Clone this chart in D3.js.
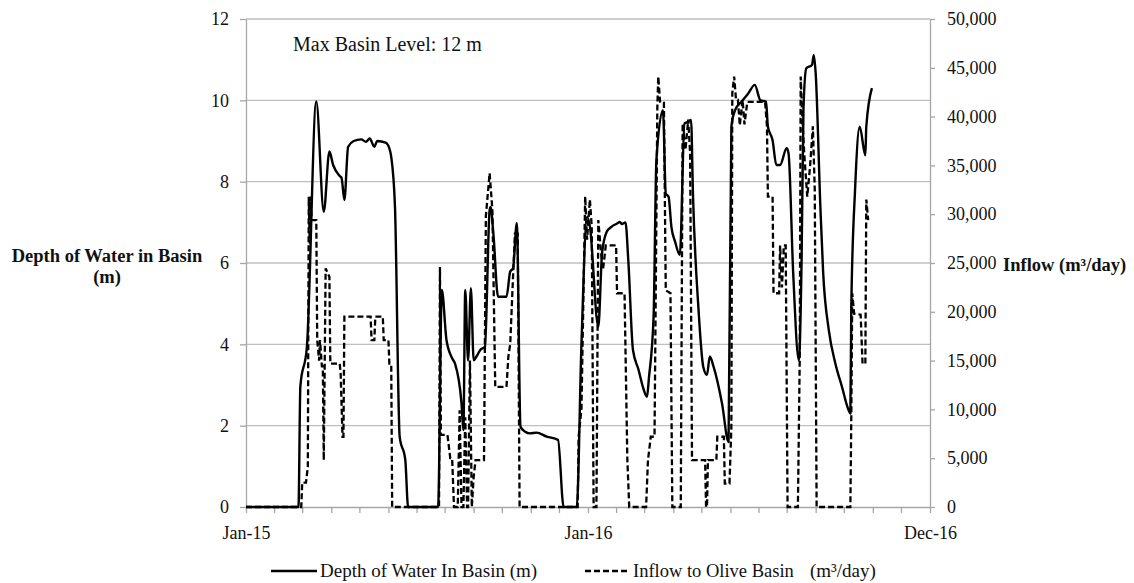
<!DOCTYPE html>
<html>
<head>
<meta charset="utf-8">
<script src="https://cdn.jsdelivr.net/npm/d3@7/dist/d3.min.js"></script>
<style>
  body { margin: 0; background: #fff; }
  svg text { font-family: "Book Antiqua", "Palatino Linotype", Palatino, "Liberation Serif", serif; fill: #111; }
</style>
</head>
<body>
<div id="chart"></div>
<script>
/* global d3 */

// Data: days counted from the start date
const startDate = '2015-01-01'

const depthDays = [0, 56, 58, 65, 75, 83, 89, 93, 100, 102, 105, 109, 115, 123, 128, 132, 137, 140, 149, 153, 155, 159, 164, 170, 173,
  205, 209, 214, 220, 223, 230, 232, 234, 237, 240, 243, 246, 250, 255, 260, 261, 264, 269, 278, 282, 285, 289, 293, 298, 303, 310, 321, 333, 339,
  353, 358, 364, 367, 376, 380, 385, 390, 396, 399, 401, 405, 408, 413, 419, 424, 428, 430, 435, 438, 445, 448, 451, 454, 458, 463,
  468, 472, 475, 477, 483, 488, 492, 495, 499, 508, 515, 518, 522, 529, 536, 543, 549, 555, 557, 562, 566, 570, 577, 579, 584, 590,
  593, 595, 598, 604, 606, 608, 613, 616, 622, 629, 636, 643, 645, 646, 650, 655, 661, 662, 668]
const depthValues = [0, 0, 2.96, 3.94, 9.97, 7.26, 8.74, 8.41, 8.14, 8.09, 7.55, 8.86, 9.0, 9.04, 8.98, 9.06, 8.86, 9.0, 8.96, 8.82, 8.61, 7.38, 1.73, 1.16, 0,
  0, 5.34, 4.1, 3.66, 3.53, 2.55, 1.89, 5.34, 3.6, 5.38, 3.61, 3.7, 3.86, 3.94, 7.3, 7.38, 6.73, 5.17, 5.17, 5.79, 5.87, 6.98, 1.97, 1.85, 1.81, 1.83, 1.73, 1.65, 0,
  0, 4.0, 7.14, 6.9, 4.43, 6.24, 6.77, 6.89, 6.97, 7.01, 6.96, 7.0, 6.07, 3.86, 3.37, 2.92, 2.71, 3.17, 4.68, 8.53, 9.76, 7.71, 7.63, 6.89, 6.52, 6.2,
  9.43, 9.47, 9.52, 7.71, 4.84, 3.45, 3.25, 3.7, 3.45, 2.55, 1.6, 9.35, 9.76, 9.97, 10.17, 10.38, 10.0, 9.97, 9.35, 9.02, 8.41, 8.41, 8.82, 8.7, 5.75, 3.61,
  6.15, 9.84, 10.79, 10.87, 11.11, 10.66, 7.38, 5.75, 4.35, 3.53, 2.96, 2.39, 2.3, 4.92, 7.79, 9.35, 8.65, 9.35, 10.3]

const inflowDays = [0, 59, 60, 64, 66, 67, 68, 69, 70, 75, 76, 78, 79, 81, 82, 83, 85, 87, 89, 90, 100, 101, 103, 104, 105, 133, 134, 137, 138, 146, 147, 152, 153, 155, 156,
  206, 207, 208, 215, 218, 220, 222, 226, 228, 230, 232, 234, 236, 237, 239, 241, 243, 245, 254, 256, 260, 263, 266, 278, 280, 282, 285, 287, 290, 292,
  354, 355, 358, 362, 364, 367, 369, 371, 374, 376, 379, 381, 384, 395, 396, 404, 407, 409, 427, 429, 432, 436, 439, 440, 442, 446, 448, 453, 455,
  464, 466, 469, 472, 474, 476, 484, 490, 491, 492, 493, 502, 503, 510, 511, 516, 518, 519, 521, 523, 525, 527, 530, 532, 535, 554, 556, 557, 562, 563, 569,
  570, 572, 574, 576, 578, 589, 591, 592, 594, 596, 599, 602, 605, 607, 609, 645, 646, 647, 649, 656, 658, 661, 662, 664]
const inflowValues = [0, 0, 2500, 2500, 4100, 31800, 27000, 31800, 29400, 29400, 17100, 15000, 17100, 14400, 14400, 4800, 24450, 24000, 23600, 14700, 14700, 13700, 7200, 7200, 19500, 19500, 17100, 17100, 19500, 19500, 17100, 17100, 14700, 14700, 0,
  0, 24600, 7400, 7400, 5000, 5000, 0, 0, 9900, 0, 0, 9200, 0, 0, 15000, 0, 3100, 4800, 4800, 29800, 34200, 30400, 12300, 12300, 15400, 16700, 23600, 28000, 28000, 0,
  0, 7200, 10000, 31800, 27400, 31500, 28700, 0, 0, 29400, 26000, 24300, 26800, 26800, 21900, 21900, 4800, 0, 0, 4800, 7200, 7200, 41000, 44100, 41400, 41400, 22200, 21900, 0,
  0, 39300, 36600, 39700, 36200, 4800, 4800, 4800, 0, 0, 4800, 4800, 7200, 7200, 2400, 2400, 8200, 42400, 44100, 41700, 41700, 39100, 41700, 39200, 41500, 41500, 39000, 31800, 31800, 21900, 21900,
  26800, 22500, 26800, 26800, 0, 0, 15400, 44100, 39300, 35900, 31800, 34900, 39000, 32500, 0, 0, 9200, 21900, 19800, 19700, 14700, 14700, 31500, 29400]

const depthTicks = [0, 2, 4, 6, 8, 10, 12]
const inflowTicks = [0, 5000, 10000, 15000, 20000, 25000, 30000, 35000, 40000, 45000, 50000]
const dateLabels = ['Jan-15', 'Jan-16', 'Dec-16']
const dateLabelDays = [0, 365, 730]

// Our canvas
const width = 1134,
  height = 583,
  plotLeft = 246,
  plotRight = 930,
  plotTop = 19,
  plotBottom = 507

const svg = d3.select('#chart')
  .append('svg')
  .attr('width', width)
  .attr('height', height)

const start = d3.timeParse('%Y-%m-%d')(startDate)
const toDate = d => d3.timeDay.offset(start, d)

const x = d3.scaleTime()
  .domain([start, toDate(730)])
  .range([plotLeft, plotRight])

const yDepth = d3.scaleLinear()
  .domain([0, 12])
  .range([plotBottom, plotTop])

const yInflow = d3.scaleLinear()
  .domain([0, 50000])
  .range([plotBottom, plotTop])

// grid lines
svg.append('g')
  .selectAll('line')
  .data(depthTicks.filter(d => d > 0))
  .enter()
  .append('line')
  .attr('x1', plotLeft)
  .attr('x2', plotRight)
  .attr('y1', d => yDepth(d))
  .attr('y2', d => yDepth(d))
  .attr('stroke', '#bfbfbf')
  .attr('stroke-width', 1.3)

const styleAxis = g => {
  g.attr('font-family', null).attr('font-size', null)
  g.select('.domain').attr('stroke', '#a6a6a6').attr('stroke-width', 1.3)
  g.selectAll('.tick line').attr('stroke', '#a6a6a6').attr('stroke-width', 1.3)
  g.selectAll('text').attr('font-size', 18)
}

// left axis
svg.append('g')
  .attr('transform', `translate(${plotLeft},0)`)
  .call(d3.axisLeft(yDepth).tickValues(depthTicks).tickSize(6).tickPadding(11).tickSizeOuter(0))
  .call(styleAxis)

// right axis
svg.append('g')
  .attr('transform', `translate(${plotRight},0)`)
  .call(d3.axisRight(yInflow).tickValues(inflowTicks).tickFormat(d3.format(',')).tickSize(5).tickPadding(12).tickSizeOuter(0))
  .call(styleAxis)

// bottom axis, monthly ticks
const monthTicks = d3.range(0, 25).map(i => toDate(i * 365 / 12))
svg.append('g')
  .attr('transform', `translate(0,${plotBottom})`)
  .call(d3.axisBottom(x).tickValues(monthTicks).tickFormat('').tickSize(6).tickSizeOuter(0))
  .call(styleAxis)

svg.append('g')
  .attr('transform', `translate(0,${plotBottom})`)
  .call(d3.axisBottom(x).tickValues(dateLabelDays.map(toDate)).tickFormat((d, i) => dateLabels[i]).tickSize(0).tickPadding(19))
  .call(styleAxis)
  .call(g => g.select('.domain').remove())

// series
const depthData = depthDays.map((d, i) => ({ date: toDate(d), value: depthValues[i] }))
const inflowData = inflowDays.map((d, i) => ({ date: toDate(d), value: inflowValues[i] }))

svg.append('path')
  .datum(inflowData)
  .attr('fill', 'none')
  .attr('stroke', '#000')
  .attr('stroke-width', 2.3)
  .attr('stroke-dasharray', '6,3')
  .attr('d', d3.line().x(d => x(d.date)).y(d => yInflow(d.value)))

svg.append('path')
  .datum(depthData)
  .attr('fill', 'none')
  .attr('stroke', '#000')
  .attr('stroke-width', 2.4)
  .attr('stroke-linejoin', 'round')
  .attr('d', d3.line().curve(d3.curveMonotoneX).x(d => x(d.date)).y(d => yDepth(d.value)))

// axis titles
svg.append('text')
  .attr('x', 107)
  .attr('y', 262)
  .attr('text-anchor', 'middle')
  .attr('font-size', 18.5)
  .attr('font-weight', 'bold')
  .text('Depth of Water in Basin')

svg.append('text')
  .attr('x', 107)
  .attr('y', 283)
  .attr('text-anchor', 'middle')
  .attr('font-size', 18.5)
  .attr('font-weight', 'bold')
  .text('(m)')

svg.append('text')
  .attr('x', 1003)
  .attr('y', 271)
  .attr('font-size', 18.5)
  .attr('font-weight', 'bold')
  .text('Inflow (m³/day)')

svg.append('text')
  .attr('x', 293)
  .attr('y', 51)
  .attr('font-size', 20)
  .text('Max Basin Level: 12 m')

// legend
const legend = svg.append('g')
legend.append('line')
  .attr('x1', 271).attr('x2', 317)
  .attr('y1', 571).attr('y2', 571)
  .attr('stroke', '#000').attr('stroke-width', 2.4)
legend.append('text')
  .attr('x', 320).attr('y', 577)
  .attr('font-size', 19)
  .text('Depth of Water In Basin (m)')
legend.append('line')
  .attr('x1', 585).attr('x2', 630)
  .attr('y1', 571).attr('y2', 571)
  .attr('stroke', '#000').attr('stroke-width', 2.3)
  .attr('stroke-dasharray', '6,3')
legend.append('text')
  .attr('x', 633).attr('y', 577)
  .attr('font-size', 18.5)
  .text('Inflow to Olive Basin')
legend.append('text')
  .attr('x', 810).attr('y', 577)
  .attr('font-size', 19)
  .text('(m³/day)')
</script>
</body>
</html>
